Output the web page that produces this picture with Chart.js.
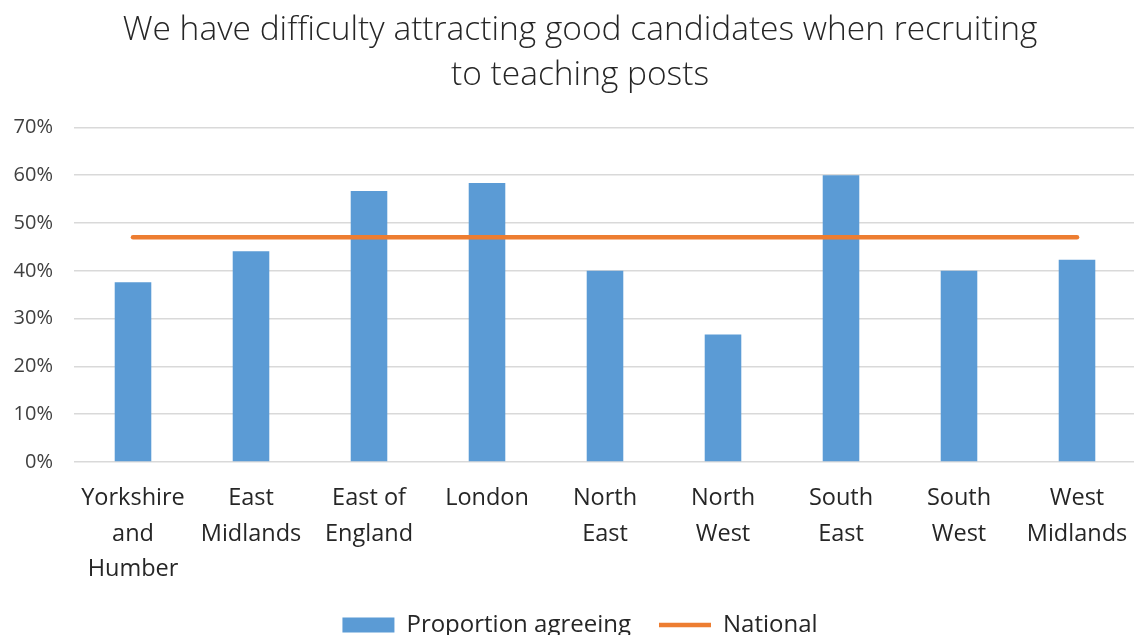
<!DOCTYPE html>
<html>
<head>
<meta charset="utf-8">
<script src="https://cdn.jsdelivr.net/npm/chart.js@4"></script>
<style>
  html, body { margin: 0; padding: 0; background: #fff; overflow: hidden; }
  #wrap { width: 1134px; height: 635px; overflow: hidden; }
</style>
</head>
<body>
<div id="wrap"><canvas id="myChart" width="1160" height="647"></canvas></div>
<script>
'use strict';

var regions = [
  ['Yorkshire', 'and', 'Humber'],
  ['East', 'Midlands'],
  ['East of', 'England'],
  'London',
  ['North', 'East'],
  ['North', 'West'],
  ['South', 'East'],
  ['South', 'West'],
  ['West', 'Midlands']
];

var agreeing = [37.6, 44.1, 56.7, 58.4, 40.0, 26.7, 60.0, 40.0, 42.3];

var national = [47, 47, 47, 47, 47, 47, 47, 47, 47];

var yTicks = [0, 10, 20, 30, 40, 50, 60, 70];

var textFont = '"Open Sans", "Segoe UI", "Noto Sans", sans-serif';

var ctx = document.getElementById('myChart');

var myChart = new Chart(ctx, {
  type: 'bar',
  data: {
    labels: regions,
    datasets: [{
      type: 'line',
      label: 'National',
      data: national,
      borderColor: '#ED7D31',
      backgroundColor: '#ED7D31',
      borderWidth: 4.5,
      borderCapStyle: 'round',
      pointRadius: 0,
      pointStyle: 'line',
      order: 0
    }, {
      label: 'Proportion agreeing',
      data: agreeing,
      backgroundColor: '#5B9BD5',
      borderWidth: 0,
      pointStyle: 'rect',
      categoryPercentage: 1,
      barPercentage: 0.31,
      order: 1
    }]
  },
  options: {
    responsive: false,
    devicePixelRatio: 1,
    animation: false,
    plugins: {
      tooltip: { enabled: false },
      title: {
        display: true,
        text: ['We have difficulty attracting good candidates when recruiting', 'to teaching posts'],
        color: '#262626',
        font: { family: textFont, size: 33.5, weight: '300', lineHeight: 1.35 },
        padding: { top: 8, bottom: 29 }
      },
      legend: {
        position: 'bottom',
        labels: {
          usePointStyle: true,
          pointStyleWidth: 52,
          boxHeight: 15,
          padding: 28,
          color: '#262626',
          font: { family: textFont, size: 24 },
          sort: function(a, b) { return b.datasetIndex - a.datasetIndex; }
        }
      }
    },
    scales: {
      x: {
        grid: { display: false, drawTicks: false },
        border: { display: false },
        ticks: {
          color: '#262626',
          padding: 19,
          maxRotation: 0,
          autoSkip: false,
          font: { family: textFont, size: 23.5, lineHeight: 1.5 }
        },
        afterFit: function(scale) { scale.height = 123; }
      },
      y: {
        min: 0,
        max: 70,
        afterBuildTicks: function(scale) {
          scale.ticks = yTicks.map(function(v) { return { value: v }; });
        },
        grid: { color: '#D9D9D9', lineWidth: 1.5, drawTicks: false },
        border: { display: false },
        ticks: {
          color: '#404040',
          padding: 21,
          font: { family: textFont, size: 20 },
          callback: function(v) { return v + '%'; }
        },
        afterFit: function(scale) { scale.width = 74; }
      },
      // empty right axis, only keeps a strip free so the title stays centred
      yRight: {
        position: 'right',
        min: 0,
        max: 70,
        grid: { display: false, drawTicks: false },
        border: { display: false },
        ticks: { display: false },
        afterFit: function(scale) { scale.width = 24; }
      }
    }
  }
});
</script>
</body>
</html>
